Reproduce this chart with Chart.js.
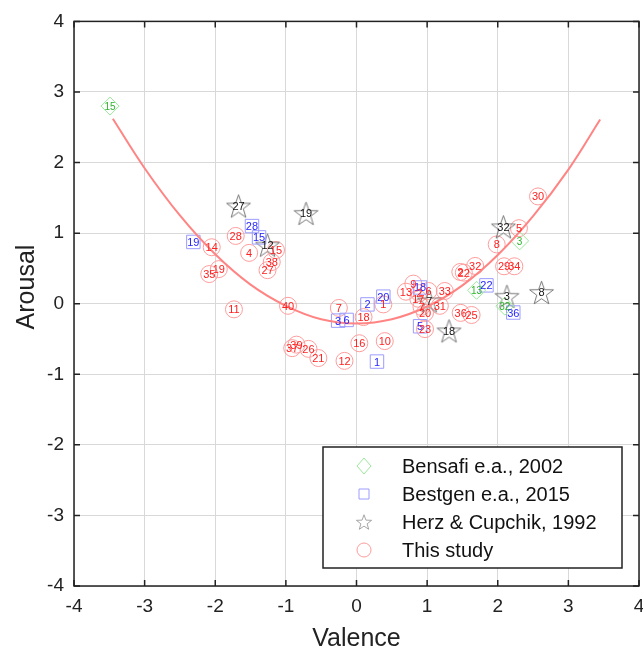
<!DOCTYPE html>
<html>
<head>
<meta charset="utf-8">
<script src="https://cdn.jsdelivr.net/npm/chart.js@4.4.1/dist/chart.umd.min.js"></script>
<style>
  html, body { margin: 0; padding: 0; background: #fff; }
  #wrap { width: 643px; height: 653px; }
</style>
</head>
<body>
<div id="wrap"><canvas id="chart" width="643" height="653"></canvas></div>
<script>
// Bensafi e.a., 2002 (diamonds)
const bensafiX = [-3.49, 2.31, 1.70, 2.10];
const bensafiY = [2.80, 0.89, 0.19, -0.035];
const bensafiLabels = ['15', '3', '13', '32'];

// Bestgen e.a., 2015 (squares)
const bestgenX = [-2.31, -1.48, -1.38, -0.26, -0.14, 0.155, 0.29, 0.38, 0.90, 0.90, 1.84, 2.22];
const bestgenY = [0.875, 1.10, 0.94, -0.24, -0.23, -0.01, -0.82, 0.10, 0.23, -0.32, 0.26, -0.125];
const bestgenLabels = ['19', '28', '15', '3', '6', '2', '1', '20', '18', '5', '22', '36'];

// Herz & Cupchik, 1992 (stars)
const herzX = [-1.67, -0.715, -1.26, 1.03, 1.31, 2.08, 2.13, 2.62];
const herzY = [1.385, 1.28, 0.83, 0.04, -0.385, 1.09, 0.105, 0.16];
const herzLabels = ['27', '19', '12', '7', '18', '32', '3', '8'];

// This study (circles)
const studyX = [-2.05, -1.71, -1.52, -1.14, -1.20, -1.26, -2.085, -1.95, -1.735, -0.97,
                -0.25, 0.10, 0.04, -0.17, -0.54, -0.68, -0.85, -0.91, 0.40, 0.38,
                0.70, 0.805, 0.89, 1.02, 0.875, 0.92, 0.97, 0.97, 1.18, 1.25,
                1.475, 1.63, 1.47, 1.52, 1.68, 1.985, 2.30, 2.57, 2.09, 2.235];
const studyY = [0.80, 0.96, 0.72, 0.76, 0.59, 0.475, 0.42, 0.49, -0.08, -0.03,
                -0.06, -0.19, -0.56, -0.81, -0.77, -0.64, -0.58, -0.63, -0.53, -0.01,
                0.17, 0.285, 0.15, 0.18, 0.07, -0.045, -0.13, -0.36, -0.03, 0.18,
                -0.13, -0.16, 0.45, 0.44, 0.535, 0.84, 1.07, 1.52, 0.53, 0.53];
const studyLabels = ['14', '28', '4', '15', '38', '27', '35', '19', '11', '40',
                     '7', '18', '16', '12', '21', '26', '39', '37', '10', '1',
                     '13', '9', '2', '6', '17', '7', '20', '23', '31', '33',
                     '36', '25', '2', '22', '32', '8', '5', '30', '29', '34'];

// quadratic fit
const fitX = [-3.45, -3, -2.5, -2, -1.5, -1, -0.5, 0, 0.5, 1, 1.5, 2, 2.5, 3, 3.45];
const fitY = [2.62, 1.92, 1.25, 0.70, 0.27, -0.03, -0.22, -0.28, -0.22, -0.04, 0.26, 0.69, 1.24, 1.90, 2.61];

const axisTicks = [-4, -3, -2, -1, 0, 1, 2, 3, 4];

const FONT = '"Liberation Sans", Arial, sans-serif';

function toPoints(xs, ys) {
    return xs.map((x, i) => ({ x: x, y: ys[i] }));
}

function makeStar(outer, inner, color, lw) {
    const size = Math.ceil(outer * 2 + 4);
    const c = document.createElement('canvas');
    c.width = size;
    c.height = size;
    const g = c.getContext('2d');
    g.translate(size / 2, size / 2 + outer * 0.1);
    g.beginPath();
    for (let i = 0; i < 10; i++) {
        const r = i % 2 === 0 ? outer : inner;
        const a = -Math.PI / 2 + i * Math.PI / 5;
        g.lineTo(r * Math.cos(a), r * Math.sin(a));
    }
    g.closePath();
    g.strokeStyle = color;
    g.lineWidth = lw;
    g.stroke();
    return c;
}

const starImg = makeStar(12.5, 5, '#6a6a6a', 0.9);
const starLegend = makeStar(8, 3.3, '#909090', 0.8);

const series = [
    { name: 'Bensafi e.a., 2002', stroke: '#9be89b', text: '#2db52d', style: 'rectRot', font: 10 },
    { name: 'Bestgen e.a., 2015', stroke: '#9c9cff', text: '#2626ff', style: 'rect', font: 11 },
    { name: 'Herz & Cupchik, 1992', stroke: '#707070', text: '#111111', style: 'star', font: 11 },
    { name: 'This study', stroke: '#ff9c9c', text: '#ff2020', style: 'circle', font: 11 }
];

const labelLists = { bensafi: bensafiLabels, bestgen: bestgenLabels, herz: herzLabels, study: studyLabels };

const framePlugin = {
    id: 'frame',
    afterDraw(chart) {
        const ctx = chart.ctx;
        const a = chart.chartArea;
        const xs = chart.scales.x, ys = chart.scales.y;
        ctx.save();
        ctx.strokeStyle = '#222';
        ctx.lineWidth = 1.5;
        ctx.strokeRect(a.left, a.top, a.right - a.left, a.bottom - a.top);
        ctx.beginPath();
        axisTicks.forEach(t => {
            const px = xs.getPixelForValue(t);
            ctx.moveTo(px, a.bottom); ctx.lineTo(px, a.bottom - 6);
            ctx.moveTo(px, a.top); ctx.lineTo(px, a.top + 6);
            const py = ys.getPixelForValue(t);
            ctx.moveTo(a.left, py); ctx.lineTo(a.left + 6, py);
            ctx.moveTo(a.right, py); ctx.lineTo(a.right - 6, py);
        });
        ctx.stroke();

        // x tick labels (drawn here so they don't shrink the plot area)
        ctx.fillStyle = '#222';
        ctx.font = '19px ' + FONT;
        ctx.textAlign = 'center';
        ctx.textBaseline = 'middle';
        axisTicks.forEach(t => {
            ctx.fillText(String(t), xs.getPixelForValue(t), a.bottom + 21);
        });

        // axis titles
        ctx.font = '25px ' + FONT;
        ctx.fillText('Valence', (a.left + a.right) / 2, 639);
        ctx.translate(27, 287);
        ctx.rotate(-Math.PI / 2);
        ctx.fillText('Arousal', 0, 0);
        ctx.restore();
    }
};

const labelPlugin = {
    id: 'pointLabels',
    afterDatasetsDraw(chart) {
        const ctx = chart.ctx;
        ctx.save();
        ctx.textAlign = 'center';
        ctx.textBaseline = 'middle';
        chart.data.datasets.forEach((ds, i) => {
            if (!ds.key) return;
            const labels = labelLists[ds.key];
            const s = series[ds.seriesIndex];
            ctx.fillStyle = s.text;
            ctx.font = s.font + 'px ' + FONT;
            chart.getDatasetMeta(i).data.forEach((pt, j) => {
                ctx.fillText(labels[j], pt.x, pt.y + 1);
            });
        });
        ctx.restore();
    }
};

const legendPlugin = {
    id: 'boxLegend',
    afterDraw(chart) {
        const ctx = chart.ctx;
        const left = 323, top = 447, w = 299, h = 121;
        ctx.save();
        ctx.fillStyle = '#fff';
        ctx.fillRect(left, top, w, h);
        ctx.strokeStyle = '#222';
        ctx.lineWidth = 1.5;
        ctx.strokeRect(left, top, w, h);
        const rows = [466, 494, 522, 550];
        const mx = 364;
        series.forEach((s, i) => {
            const y = rows[i];
            ctx.strokeStyle = s.stroke;
            ctx.lineWidth = 1;
            ctx.beginPath();
            if (s.style === 'rectRot') {
                ctx.moveTo(mx, y - 8); ctx.lineTo(mx + 7, y); ctx.lineTo(mx, y + 8); ctx.lineTo(mx - 7, y); ctx.closePath();
            } else if (s.style === 'rect') {
                ctx.rect(mx - 5, y - 5, 10, 10);
            } else if (s.style === 'circle') {
                ctx.arc(mx, y, 7, 0, Math.PI * 2);
            }
            ctx.stroke();
            if (s.style === 'star') {
                ctx.drawImage(starLegend, mx - starLegend.width / 2, y - starLegend.height / 2);
            }
            ctx.fillStyle = '#111';
            ctx.font = '20px ' + FONT;
            ctx.textAlign = 'left';
            ctx.textBaseline = 'middle';
            ctx.fillText(s.name, 402, y + 1);
        });
        ctx.restore();
    }
};

const tickFont = { family: FONT, size: 19 };

new Chart(document.getElementById('chart').getContext('2d'), {
    type: 'scatter',
    data: {
        datasets: [
            {
                label: 'fit',
                type: 'line',
                data: toPoints(fitX, fitY),
                borderColor: '#ff8484',
                borderWidth: 2,
                pointRadius: 0,
                fill: false,
                tension: 0.4,
                order: 0
            },
            {
                key: 'bensafi', seriesIndex: 0,
                label: series[0].name,
                data: toPoints(bensafiX, bensafiY),
                pointStyle: 'rectRot',
                pointRadius: 9,
                borderColor: series[0].stroke,
                backgroundColor: 'rgba(0,0,0,0)',
                borderWidth: 1,
                order: 1
            },
            {
                key: 'bestgen', seriesIndex: 1,
                label: series[1].name,
                data: toPoints(bestgenX, bestgenY),
                pointStyle: 'rect',
                pointRadius: 9.5,
                borderColor: series[1].stroke,
                backgroundColor: 'rgba(0,0,0,0)',
                borderWidth: 1,
                order: 2
            },
            {
                key: 'herz', seriesIndex: 2,
                label: series[2].name,
                data: toPoints(herzX, herzY),
                pointStyle: starImg,
                pointRadius: 12.5,
                borderColor: series[2].stroke,
                backgroundColor: 'rgba(0,0,0,0)',
                order: 3
            },
            {
                key: 'study', seriesIndex: 3,
                label: series[3].name,
                data: toPoints(studyX, studyY),
                pointStyle: 'circle',
                pointRadius: 8.5,
                borderColor: series[3].stroke,
                backgroundColor: 'rgba(0,0,0,0)',
                borderWidth: 1,
                order: 4
            }
        ]
    },
    options: {
        responsive: false,
        animation: false,
        layout: { autoPadding: false, padding: { top: 21, right: 4, left: 0, bottom: 0 } },
        plugins: {
            legend: { display: false },
            tooltip: { enabled: false }
        },
        scales: {
            x: {
                type: 'linear',
                min: -4, max: 4,
                afterBuildTicks: axis => { axis.ticks = axisTicks.map(v => ({ value: v })); },
                afterFit: axis => { axis.height = 67; },
                ticks: { display: false },
                grid: { color: '#d9d9d9', lineWidth: 1, drawTicks: false },
                border: { display: false },
                title: { display: false }
            },
            y: {
                type: 'linear',
                min: -4, max: 4,
                afterBuildTicks: axis => { axis.ticks = axisTicks.map(v => ({ value: v })); },
                afterFit: axis => { axis.width = 74; },
                ticks: { color: '#222', font: tickFont, padding: 10 },
                grid: { color: '#d9d9d9', lineWidth: 1, drawTicks: false },
                border: { display: false },
                title: { display: false }
            }
        }
    },
    plugins: [framePlugin, labelPlugin, legendPlugin]
});
</script>
</body>
</html>
